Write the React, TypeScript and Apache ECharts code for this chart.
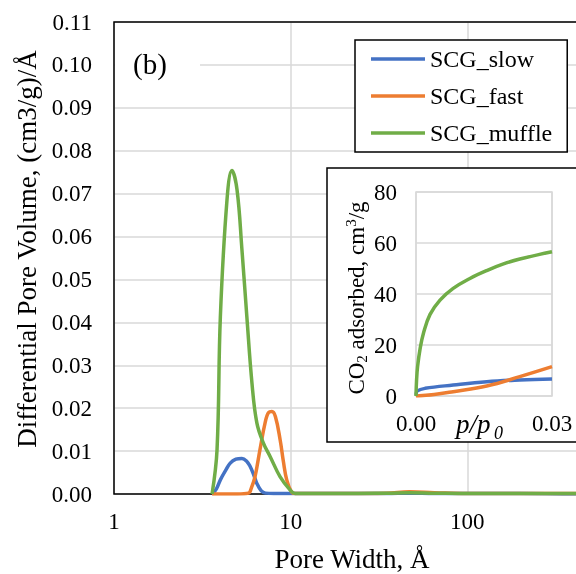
import React, { useEffect, useRef } from "react";
import * as echarts from "echarts";

const FONT = "'Liberation Serif', 'Times New Roman', serif";

// Main chart: pore size distribution (x = pore width, Å; y = dV, (cm3/g)/Å)
const slowX = [3.59, 3.8, 4.0, 4.3, 4.55, 4.9, 5.3, 5.65, 5.9, 6.2, 6.43, 6.8, 7.2, 8, 10, 20, 35, 47, 65, 100, 200, 400, 1000];
const slowY = [0, 0.0012, 0.0033, 0.0056, 0.0072, 0.0081, 0.0083, 0.0076, 0.0064, 0.0043, 0.0025, 0.0008, 0.0002, 0.0001, 0.0001, 0.0001, 0.0001, 0.0002, 0.0001, 0.0001, 0.0001, 0, 0];

const fastX = [3.59, 5.0, 5.77, 6.0, 6.28, 6.7, 7.16, 7.5, 7.83, 8.2, 8.72, 9.1, 9.5, 10.1, 10.6, 20, 35, 47, 65, 100, 200, 400, 1000];
const fastY = [0, 0, 0.0002, 0.0015, 0.004, 0.0103, 0.0165, 0.019, 0.0192, 0.018, 0.0126, 0.0075, 0.0033, 0.0005, 0.0001, 0.0001, 0.0002, 0.0005, 0.0003, 0.0001, 0.0001, 0.0001, 0.0001];

const muffleX = [3.59, 3.83, 4.0, 4.36, 4.65, 4.97, 5.3, 5.65, 6.04, 6.44, 7.02, 7.66, 8.72, 9.94, 10.6, 20, 35, 47, 65, 100, 200, 400, 1000];
const muffleY = [0, 0.0103, 0.0413, 0.0685, 0.0754, 0.0709, 0.0569, 0.0413, 0.0258, 0.0165, 0.0118, 0.0087, 0.004, 0.0009, 0.0001, 0.0001, 0.0002, 0.0003, 0.0002, 0.0001, 0.0001, 0.0001, 0.0001];

// Inset: CO2 isotherms (x = p/p0, y = cm3/g)
const isoSlowP = [0, 0.0003, 0.002, 0.0082, 0.0156, 0.0229, 0.03];
const isoSlowQ = [0.5, 2.0, 3.0, 4.3, 5.6, 6.3, 6.7];
const isoFastP = [0, 0.004, 0.0082, 0.0156, 0.0229, 0.03];
const isoFastQ = [0, 0.6, 1.7, 3.9, 7.6, 11.5];
const isoMuffleP = [0, 0.00012, 0.00035, 0.0009, 0.0017, 0.0031, 0.0053, 0.0082, 0.0119, 0.0156, 0.0193, 0.0229, 0.03];
const isoMuffleQ = [0, 6.0, 11.5, 18.5, 25.0, 32.0, 37.6, 42.2, 46.1, 49.2, 51.8, 53.7, 56.6];

const seriesNames = ["SCG_slow", "SCG_fast", "SCG_muffle"];
const colors = ["#4472C4", "#ED7D31", "#70AD47"];

const zip = (a: number[], b: number[]) => a.map((v, i) => [v, b[i]]);

export default function App() {
  const ref = useRef<HTMLDivElement>(null);
  useEffect(() => {
    if (!ref.current) return;
    const chart = echarts.init(ref.current, null, { renderer: "svg" });
    const grey = "#d9d9d9";
    const mainData = [zip(slowX, slowY), zip(fastX, fastY), zip(muffleX, muffleY)];
    const isoData = [zip(isoSlowP, isoSlowQ), zip(isoFastP, isoFastQ), zip(isoMuffleP, isoMuffleQ)];
    chart.setOption({
      animation: false,
      textStyle: { fontFamily: FONT },
      grid: [
        { left: 114, top: 22, width: 530, bottom: 80, show: true, borderColor: "#000", borderWidth: 1.5, z: 1 },
        { left: 416, top: 192, width: 136, bottom: 178, show: true, borderColor: grey, borderWidth: 1.5, z: 4 },
      ],
      xAxis: [
        {
          type: "log", logBase: 10, min: 1, max: 1000, gridIndex: 0, z: 0,
          axisLine: { show: false }, axisTick: { show: false },
          splitLine: { show: true, lineStyle: { color: grey, width: 1.5 } },
          axisLabel: { color: "#000", fontSize: 23, fontFamily: FONT, margin: 16, showMaxLabel: false },
        },
        {
          type: "value", min: 0, max: 0.03, interval: 0.03, gridIndex: 1, z: 4,
          axisLine: { show: false }, axisTick: { show: false },
          splitLine: { show: true, lineStyle: { color: grey, width: 1.5 } },
          axisLabel: { color: "#000", fontSize: 23, fontFamily: FONT, margin: 16, formatter: (v: number) => v.toFixed(2) },
        },
      ],
      yAxis: [
        {
          type: "value", min: 0, max: 0.11, interval: 0.01, gridIndex: 0, z: 0,
          axisLine: { show: false }, axisTick: { show: false },
          splitLine: { show: true, lineStyle: { color: grey, width: 1.5 } },
          axisLabel: { color: "#000", fontSize: 23, fontFamily: FONT, margin: 22, formatter: (v: number) => v.toFixed(2) },
        },
        {
          type: "value", min: 0, max: 80, interval: 20, gridIndex: 1, z: 4,
          axisLine: { show: false }, axisTick: { show: false },
          splitLine: { show: true, lineStyle: { color: grey, width: 1.5 } },
          axisLabel: { color: "#000", fontSize: 23, fontFamily: FONT, margin: 19 },
        },
      ],
      legend: {
        data: seriesNames,
        orient: "vertical",
        left: 355,
        top: 40,
        z: 6,
        icon: "rect",
        backgroundColor: "#fff",
        borderColor: "#000",
        borderWidth: 1.5,
        borderRadius: 0,
        padding: [7, 15, 7, 16],
        itemWidth: 54,
        itemHeight: 3.5,
        itemGap: 13,
        textStyle: { color: "#000", fontSize: 24, fontFamily: FONT, lineHeight: 24 },
      },
      graphic: [
        { type: "rect", z: 1.5, shape: { x: 115, y: 33, width: 85, height: 67 }, style: { fill: "#fff" } },
        { type: "text", z: 6, x: 133, y: 64, style: { text: "(b)", font: `29px ${FONT}`, fill: "#000", verticalAlign: "middle" } },
        { type: "rect", z: 3, shape: { x: 327, y: 168, width: 270, height: 274 }, style: { fill: "#fff", stroke: "#000", lineWidth: 1.5 } },
        {
          type: "text", z: 6, x: 27, y: 249, rotation: Math.PI / 2,
          style: { text: "Differential Pore Volume, (cm3/g)/Å", font: `27px ${FONT}`, fill: "#000", align: "center", verticalAlign: "middle" },
        },
        {
          type: "text", z: 6, x: 352, y: 559,
          style: { text: "Pore Width, Å", font: `27px ${FONT}`, fill: "#000", align: "center", verticalAlign: "middle" },
        },
        {
          type: "text", z: 6, x: 356, y: 298, rotation: Math.PI / 2,
          style: {
            text: "{a|CO}{b|2}{a| adsorbed, cm}{c|3}{a|/g}",
            align: "center", verticalAlign: "middle", fill: "#000",
            rich: {
              a: { fontSize: 23, fontFamily: FONT, lineHeight: 30, verticalAlign: "middle", fill: "#000" },
              b: { fontSize: 15, fontFamily: FONT, lineHeight: 30, verticalAlign: "bottom", padding: [0, 0, 2, 0], fill: "#000" },
              c: { fontSize: 15, fontFamily: FONT, lineHeight: 30, verticalAlign: "top", padding: [2, 0, 0, 0], fill: "#000" },
            },
          },
        },
        { type: "text", z: 6, x: 456, y: 424, style: { text: "p/p", font: `italic 27px ${FONT}`, fill: "#000", verticalAlign: "middle" } },
        { type: "text", z: 6, x: 494, y: 433, style: { text: "0", font: `italic 18px ${FONT}`, fill: "#000", verticalAlign: "middle" } },
      ],
      series: [
        ...seriesNames.map((name, i) => ({
          name, type: "line", xAxisIndex: 0, yAxisIndex: 0, z: 2,
          data: mainData[i], smooth: 0.4, symbol: "none",
          lineStyle: { color: colors[i], width: 3.5 }, itemStyle: { color: colors[i] },
        })),
        ...seriesNames.map((name, i) => ({
          name: name + " (CO2)", type: "line", xAxisIndex: 1, yAxisIndex: 1, z: 5,
          data: isoData[i], smooth: 0.4, symbol: "none",
          lineStyle: { color: colors[i], width: 3.5 }, itemStyle: { color: colors[i] },
        })),
      ],
    });
    return () => chart.dispose();
  }, []);
  return (
    <div style={{ position: "fixed", left: 0, top: 0, width: 576, height: 574, overflow: "hidden" }}>
      <div ref={ref} style={{ width: 680, height: 574 }} />
    </div>
  );
}
